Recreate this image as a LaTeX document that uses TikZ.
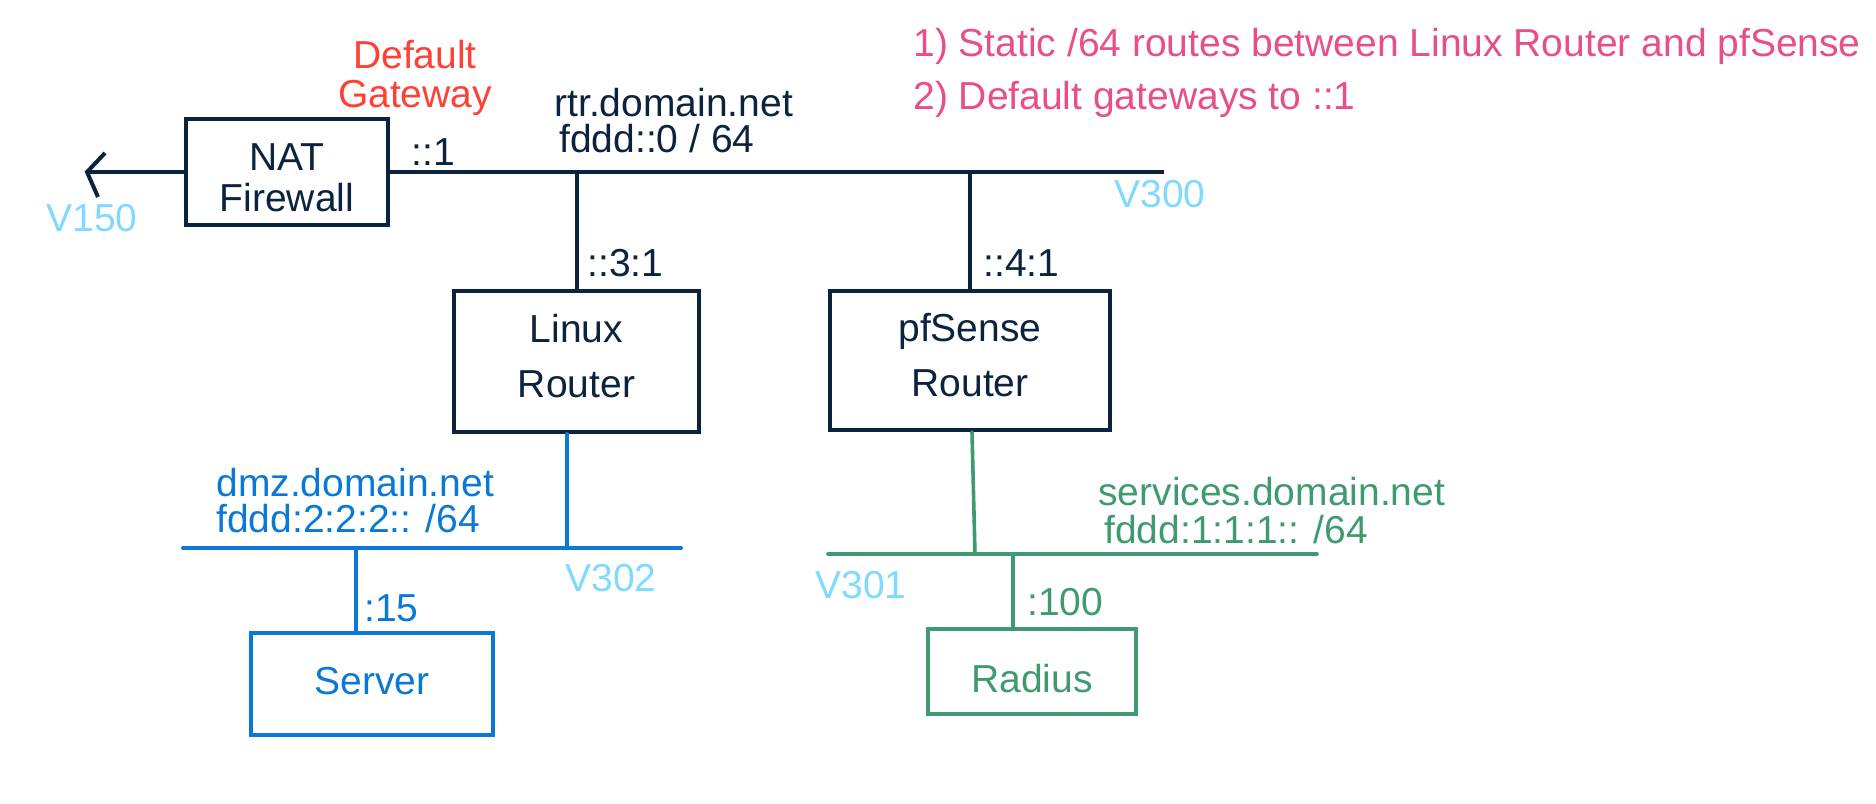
\documentclass[tikz,border=0pt]{standalone}
\usepackage{fontspec}
\setmainfont{Liberation Sans}
\usetikzlibrary{arrows.meta}
\definecolor{navy}{HTML}{0C2340}
\definecolor{dmzblue}{HTML}{0A78D7}
\definecolor{svcgreen}{HTML}{3F9A6F}
\definecolor{vlancyan}{HTML}{80D9FF}
\definecolor{gwred}{HTML}{FF4035}
\definecolor{notepink}{HTML}{E84E8A}
\tikzset{
  box/.style={draw=navy, line width=2pt, align=center, inner sep=0pt, text=navy, font=\fontsize{19.5}{20.5}\selectfont},
  routerbox/.style={box, font=\fontsize{19.5}{27.5}\selectfont, text depth=5.5pt},
  dmzbox/.style={box, draw=dmzblue, text=dmzblue},
  svcbox/.style={box, draw=svcgreen, text=svcgreen, line width=1.8pt},
  lbl/.style={anchor=west, inner sep=0pt, align=left, text=navy, font=\fontsize{19.5}{18}\selectfont},
  vlan/.style={lbl, text=vlancyan},
  bus/.style={draw=navy, line width=2pt},
  dmzbus/.style={draw=dmzblue, line width=2pt, line cap=round},
  svcbus/.style={draw=svcgreen, line width=1.8pt, line cap=round}
}
\begin{document}
\begin{tikzpicture}[x=0.5pt, y=-0.5pt]
\useasboundingbox (0,0) rectangle (1876,804);
\node[box, minimum width=101pt, minimum height=53pt, text height=39.5pt] (nat) at (287,172) {NAT\\Firewall};
\node[routerbox, minimum width=122.5pt, minimum height=70.5pt] (linux) at (576.5,361.5) {Linux\\Router};
\node[routerbox, minimum width=140pt, minimum height=69.5pt] (pfsense) at (970,360.5) {pfSense\\Router};
\node[dmzbox, minimum width=121pt, minimum height=51pt, text depth=3.6pt] (server) at (372,684) {Server};
\node[svcbox, minimum width=104pt, minimum height=42.5pt, text height=21pt] (radius) at (1032,671.5) {Radius};

\coordinate (v150end) at (87,172);
\coordinate (barbup) at (105,153);
\coordinate (barbdown) at (98,197);
\coordinate (v300end) at (1164,172);
\coordinate (dmzwest) at (183,548);
\coordinate (dmzeast) at (681,548);
\coordinate (linuxdrop) at (567,548);
\coordinate (serverdrop) at (356,548);
\coordinate (svcwest) at (828,554);
\coordinate (svceast) at (1317,554);
\coordinate (pfsensedrop) at (975,554);
\coordinate (radiusdrop) at (1013,554);

\draw[bus] (nat.west) -- (v150end);
\draw[bus] (barbup) -- (v150end) -- (barbdown);
\draw[bus] (nat.east) -- (v300end);
\draw[bus] (linux.north) -- (linux.north |- v300end);
\draw[bus] (pfsense.north) -- (pfsense.north |- v300end);

\draw[dmzbus] (dmzwest) -- (dmzeast);
\draw[dmzbus] (linux.south -| linuxdrop) -- (linuxdrop);
\draw[dmzbus] (serverdrop) -- (serverdrop |- server.north);

\draw[svcbus] (svcwest) -- (svceast);
\draw[svcbus] ([xshift=1pt]pfsense.south) -- (pfsensedrop);
\draw[svcbus] (radiusdrop) -- (radiusdrop |- radius.north);

\node[lbl, text=gwred, align=center, anchor=center, font=\fontsize{19.5}{19.5}\selectfont] (gw) at (415,78) {Default\\Gateway};
\node[lbl] (natip) at (411,152) {::1};
\node[lbl] (rtrnet) at (554,120.5) {rtr.domain.net\\\hspace*{2.5pt}fddd::0 / 64};
\node[vlan] (v300) at (1114,194) {V300};
\node[lbl] (linuxip) at (587,263) {::3:1};
\node[lbl] (pfsenseip) at (983,263) {::4:1};
\node[vlan] (v150) at (46,218.5) {V150};
\node[lbl, text=dmzblue, font=\fontsize{19.5}{18}\selectfont] (dmznet) at (216,501) {dmz.domain.net\\fddd:2:2:2:: /64};
\node[vlan] (v302) at (565,578.5) {V302};
\node[lbl, text=dmzblue] (serverip) at (364,608.5) {:15};
\node[lbl, text=svcgreen, font=\fontsize{19.5}{19}\selectfont] (svcnet) at (1098,510.5) {services.domain.net\\\hspace*{3pt}fddd:1:1:1:: /64};
\node[vlan] (v301) at (815,585) {V301};
\node[lbl, text=svcgreen] (radiusip) at (1027,602.5) {:100};
\node[lbl, text=notepink, font=\fontsize{19.5}{26.5}\selectfont] (notes) at (913,73) {1) Static /64 routes between Linux Router and pfSense\\2) Default gateways to ::1};
\end{tikzpicture}
\end{document}
